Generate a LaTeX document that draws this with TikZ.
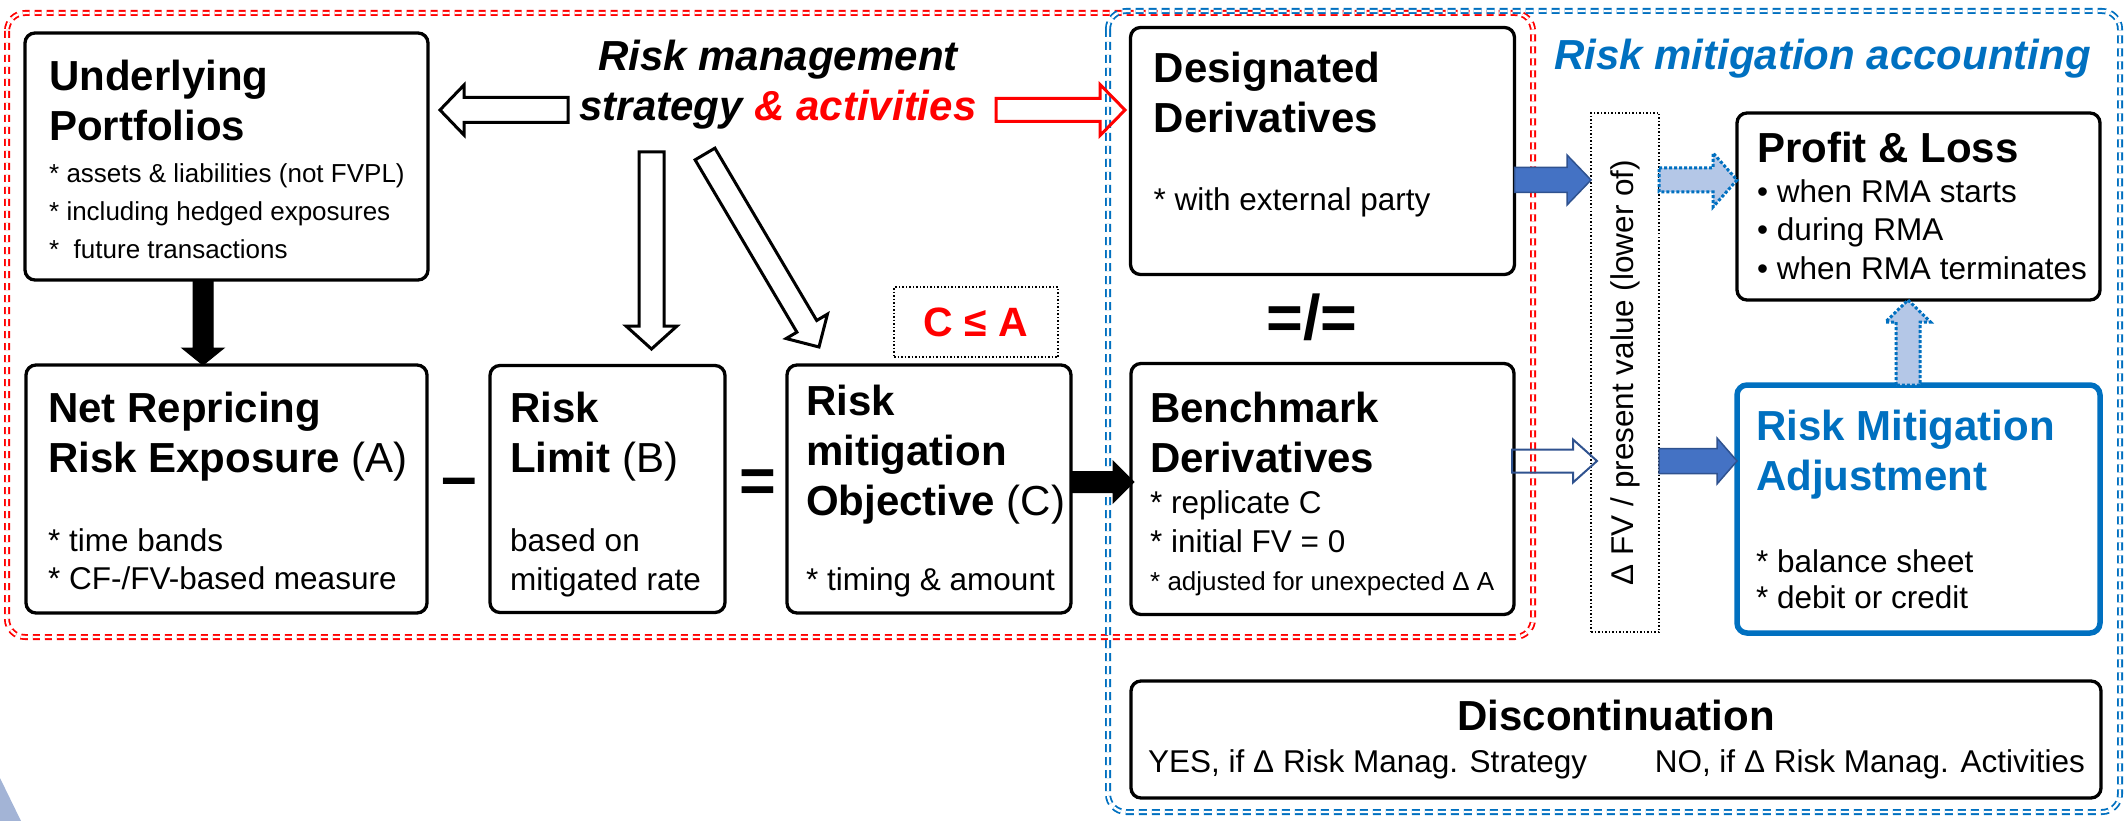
\documentclass[tikz,border=0pt]{standalone}
\usepackage{fontspec}
\setmainfont{Liberation Sans}
\usepackage{tikz}
\usetikzlibrary{positioning}
\usetikzlibrary{calc}

\definecolor{rmablue}{HTML}{0070C0}
\definecolor{arrowblue}{HTML}{4472C4}
\definecolor{arrowedge}{HTML}{2F528F}
\definecolor{lightblue}{HTML}{B4C7E7}
\definecolor{cornerblue}{HTML}{A3B4D6}

\newcommand\headfont{\fontsize{42}{50}\selectfont\bfseries}
\newcommand\bodyfont{\fontsize{31.5}{38.5}\selectfont}
\newcommand\smallfont{\fontsize{26}{38}\selectfont}

% block arrow: [style]{from}{to}{shaft half width}{head half width}{head length}
\newcommand{\blockarrow}[6][]{%
  \coordinate (ba-base) at ($(#3)!#6!(#2)$);
  \draw[#1] ($(#2)!#4!90:(#3)$) -- ($(ba-base)!#4!90:(#3)$) -- ($(ba-base)!#5!90:(#3)$) -- (#3)
    -- ($(ba-base)!#5!-90:(#3)$) -- ($(ba-base)!#4!-90:(#3)$) -- ($(#2)!#4!-90:(#3)$) -- cycle;}

\begin{document}
\begin{tikzpicture}[x=1pt,y=-1pt]
\tikzstyle{box node}=[rectangle,draw,line width=3.3pt,rounded corners=10pt,fill=white,outer sep=0pt,inner sep=0pt]
\tikzstyle{bbox node}=[box node,draw=rmablue,line width=5.5pt]
\tikzstyle{dot node}=[rectangle,draw,dotted,line width=1.5pt,outer sep=0pt,inner sep=0pt]
\tikzstyle{head text}=[align=left,inner sep=0pt,font=\headfont]
\tikzstyle{body text}=[align=left,inner sep=0pt,font=\bodyfont]
\tikzset{
  red frame/.style = {draw=red,double=white,double distance=2.4pt,line width=1.8pt,dash pattern=on 7pt off 5pt,rounded corners=18pt},
  blue frame/.style = {red frame,draw=rmablue,dash pattern=on 8pt off 5pt},
  hollow arrow/.style = {draw=black,line width=3pt},
  rhollow arrow/.style = {hollow arrow,draw=red},
  solid arrow/.style = {fill=black,draw=black,line width=1pt},
  blue arrow/.style = {fill=arrowblue,draw=arrowedge,line width=1.5pt},
  bhollow arrow/.style = {draw=arrowedge,line width=2pt},
  light arrow/.style = {fill=lightblue,draw=rmablue,dotted,line width=3pt}
}
\useasboundingbox (0,0) rectangle (2125,821);

    \draw[red frame] (7,13) rectangle (1533,637);
    \draw[blue frame] (1108,11) rectangle (2120,812);
    \fill[cornerblue] (0,778) -- (21,821) -- (0,821) -- cycle;

    \node[box node, minimum width=403pt, minimum height=247pt] (under) at (226.5,156.5) {};
    \node[box node, minimum width=401pt, minimum height=248pt] (net) [below=85pt of under] {};
    \node[box node, minimum width=235pt, minimum height=247pt] (lim) [right=63pt of net] {};
    \node[box node, minimum width=284pt, minimum height=248pt] (obj) [right=62pt of lim] {};
    \node[box node, minimum width=383pt, minimum height=251pt] (bench) [right=60pt of obj] {};
    \node[box node, minimum width=384pt, minimum height=247pt] (des) [above=89pt of bench] {};
    \node[dot node, minimum width=164pt, minimum height=70pt, text=red, font=\fontsize{41}{41}\selectfont\bfseries] (cla) at (976,322) {C ≤ A};
    \node[dot node, minimum width=68pt, minimum height=519pt] (dfv) at (1625,372.5) {};
    \node[box node, minimum width=363pt, minimum height=187pt] (pnl) at (1918.5,206.5) {};
    \node[bbox node, minimum width=363pt, minimum height=248pt] (rma) [below=85pt of pnl] {};
    \node[box node, minimum width=970pt, minimum height=117pt] (disc) at (1616,739.5) {};
    %%%%%%%%%%%%%%%%%%%%%%%%%%%%%%%%%%%%%%%%%%
    \node[head text, font=\headfont\itshape, align=center, anchor=north] (rms) at (778,40) {Risk management\\strategy \textcolor{red}{\& activities}};
    \node[head text, font=\headfont\itshape, text=rmablue, anchor=base west] (rmat) at (1554,70) {Risk mitigation accounting};

    \node[head text, below right=27pt and 24pt of under.north west] (undert) {Underlying\\Portfolios};
    \node[body text, font=\smallfont, below right=130pt and 24pt of under.north west] (underb) {* assets \& liabilities (not FVPL)\\* including hedged exposures\\*~ future transactions};
    \node[head text, below right=27pt and 22pt of net.north west] (nett) {Net Repricing\\Risk Exposure \textmd{(A)}};
    \node[body text, below right=163pt and 22pt of net.north west] (netb) {* time bands\\* CF-/FV-based measure};
    \node[head text, below right=26pt and 20pt of lim.north west] (limt) {Risk\\Limit \textmd{(B)}};
    \node[body text, below right=163pt and 20pt of lim.north west] (limb) {based on\\mitigated rate};
    \node[head text, below right=20pt and 19pt of obj.north west] (objt) {Risk\\mitigation\\Objective \textmd{(C)}};
    \node[body text, below right=202pt and 19pt of obj.north west] (objb) {* timing \& amount};
    \node[head text, below right=24pt and 23pt of des.north west] (dest) {Designated\\Derivatives};
    \node[body text, below right=160pt and 23pt of des.north west] (desb) {* with external party};
    \node[head text, below right=28pt and 19pt of bench.north west] (bencht) {Benchmark\\Derivatives};
    \node[body text, below right=127pt and 19pt of bench.north west] (benchb) {* replicate C\\* initial FV = 0\\{\smallfont * adjusted for unexpected Δ A}};
    \node[body text, rotate=90] (dfvt) at (dfv.center) {Δ FV / present value (lower of)};
    \node[head text, below right=19pt and 20pt of pnl.north west] (pnlt) {Profit \& Loss};
    \node[body text, below right=66pt and 20pt of pnl.north west] (pnlb) {• when RMA starts\\• during RMA\\• when RMA terminates};
    \node[head text, text=rmablue, below right=25pt and 19pt of rma.north west] (rmaat) {Risk Mitigation\\Adjustment};
    \node[body text, font=\fontsize{31.5}{36}\selectfont, below right=164pt and 19pt of rma.north west] (rmab) {* balance sheet\\* debit or credit};
    \node[head text, anchor=base] (disct) at ($(disc.north)+(0,49)$) {Discontinuation};
    \node[body text, anchor=base west] (discy) at ($(disc.north west)+(17,91)$) {YES, if Δ Risk Manag. Strategy};
    \node[body text, anchor=base east] (discn) at ($(disc.north east)+(-16,91)$) {NO, if Δ Risk Manag. Activities};

    \node[inner sep=0pt, anchor=base, font=\fontsize{64}{64}\selectfont\bfseries] (minus) at (459,498.5) {–};
    \node[inner sep=0pt, anchor=base, font=\fontsize{63}{63}\selectfont\bfseries] (equal) at (758,502.5) {=};
    \node[inner sep=0pt, anchor=base, font=\fontsize{63}{63}\selectfont\bfseries] (neq) at (1312,339) {=/=};
    %%%%%%%%%%%%%%%%%%%%%%%%%%%%%%%%%%%%%%%%%%
    \coordinate (ua) at (203,0 |- under.south);
    \coordinate (ub) at (203,0 |- net.north);
    \coordinate (la) at (568,110);
    \coordinate (lb) at (440,110);
    \coordinate (ra) at (996,110);
    \coordinate (rb) at (1125,110);
    \coordinate (da) at (651.5,152);
    \coordinate (db) at (651.5,349);
    \coordinate (ga) at (705,154);
    \coordinate (gb) at (819,347);
    \coordinate (oa) at (obj.east |- 0,482);
    \coordinate (ob) at (1134,482);
    \coordinate (pa) at (des.east |- 0,180);
    \coordinate (pb) at (dfv.west |- 0,180);
    \coordinate (qa) at (1512,461);
    \coordinate (qb) at (1597,461);
    \coordinate (sa) at (dfv.east |- 0,461);
    \coordinate (sb) at (rma.west |- 0,461);
    \coordinate (ta) at (dfv.east |- 0,180);
    \coordinate (tb) at (pnl.west |- 0,180);
    \coordinate (ka) at (1908,0 |- rma.north);
    \coordinate (kb) at (1908,0 |- pnl.south);

    \blockarrow[solid arrow]{ua}{ub}{10pt}{21pt}{17pt}
    \blockarrow[hollow arrow]{la}{lb}{12.5pt}{25pt}{24pt}
    \blockarrow[rhollow arrow]{ra}{rb}{11.5pt}{25.5pt}{25pt}
    \blockarrow[hollow arrow]{da}{db}{12.5pt}{25.5pt}{23pt}
    \blockarrow[hollow arrow]{ga}{gb}{11.5pt}{24pt}{24pt}
    \blockarrow[solid arrow]{oa}{ob}{10.5pt}{21pt}{21pt}
    \blockarrow[blue arrow]{pa}{pb}{12.5pt}{25pt}{24pt}
    \blockarrow[bhollow arrow]{qa}{qb}{11.5pt}{21.5pt}{24pt}
    \blockarrow[blue arrow]{sa}{sb}{12.5pt}{23pt}{20pt}
    \blockarrow[light arrow]{ta}{tb}{12pt}{27pt}{24pt}
    \blockarrow[light arrow]{ka}{kb}{12pt}{22.5pt}{22pt}
\end{tikzpicture}
\end{document}
